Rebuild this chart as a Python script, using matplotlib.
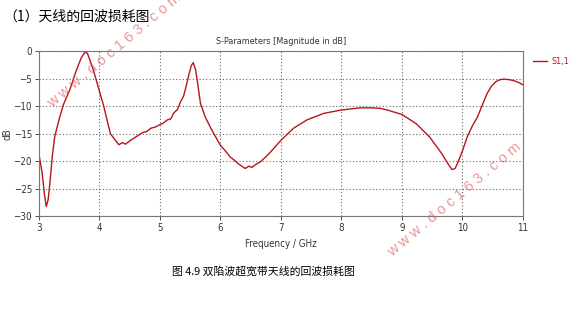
import matplotlib.pyplot as plt
import numpy as np

plt.rcParams['font.family'] = ['DejaVu Sans']
plt.rcParams['font.stretch'] = 'condensed'

# S11
freq = [3.00, 3.05, 3.09, 3.12, 3.15, 3.18, 3.22, 3.26, 3.33, 3.40, 3.51, 3.62, 3.70, 3.76,
        3.80, 3.84, 3.90, 3.96, 4.07, 4.18, 4.25, 4.32, 4.38, 4.43, 4.50, 4.57, 4.64, 4.71,
        4.78, 4.85, 4.92, 4.99, 5.05, 5.12, 5.18, 5.23, 5.29, 5.34, 5.39, 5.43, 5.48, 5.52,
        5.55, 5.59, 5.63, 5.67, 5.75, 5.86, 6.00, 6.08, 6.16, 6.23, 6.30, 6.41, 6.47, 6.52,
        6.58, 6.66, 6.75, 6.83, 7.00, 7.21, 7.43, 7.71, 8.00, 8.31, 8.48, 8.64, 8.76, 9.00,
        9.24, 9.46, 9.66, 9.76, 9.83, 9.88, 9.92, 10.00, 10.08, 10.17, 10.25, 10.33, 10.41,
        10.48, 10.55, 10.62, 10.69, 10.78, 10.86, 10.93, 11.00]
s11 = [-18.8, -22.0, -26.0, -28.2, -27.0, -24.0, -19.0, -15.5, -12.5, -9.8, -7.0, -3.4, -1.2, -0.2,
       -0.4, -1.6, -3.5, -5.8, -10.0, -15.0, -16.0, -17.0, -16.6, -16.9, -16.3, -15.8, -15.3, -14.8,
       -14.6, -14.0, -13.8, -13.4, -13.1, -12.5, -12.3, -11.2, -10.6, -9.2, -8.2, -6.5, -4.2, -2.6,
       -2.1, -3.4, -6.4, -9.5, -12.0, -14.4, -17.1, -18.1, -19.2, -19.8, -20.5, -21.3, -20.9, -21.1,
       -20.6, -20.1, -19.2, -18.3, -16.2, -14.0, -12.5, -11.3, -10.7, -10.3, -10.3, -10.4, -10.7, -11.5,
       -13.2, -15.6, -18.6, -20.4, -21.5, -21.3, -20.4, -18.2, -15.6, -13.5, -12.0, -9.8, -7.7,
       -6.4, -5.6, -5.2, -5.1, -5.2, -5.4, -5.7, -6.1]

xticks = [3, 4, 5, 6, 7, 8, 9, 10, 11]
yticks = [0, -5, -10, -15, -20, -25, -30]

fig = plt.figure(figsize=(5.79, 3.23), dpi=100)
ax = fig.add_axes([0.0674, 0.330, 0.8355, 0.512])

ax.plot(freq, s11, color='#b5161b', lw=1.0, label='S1,1')
ax.set_xlim(3, 11)
ax.set_ylim(-30, 0)
ax.set_xticks(xticks)
ax.set_yticks(yticks)
ax.tick_params(labelsize=7, length=3, width=0.6, colors='#333333', pad=2)
ax.grid(True, ls=(0, (1, 2)), color='#666666', lw=0.8)
for s in ax.spines.values():
    s.set_color('#777777')
    s.set_linewidth(0.8)

ax.set_title('S-Parameters [Magnitude in dB]', fontsize=6.5, color='#333333', pad=5)
ax.set_xlabel('Frequency / GHz', fontsize=7, color='#333333', labelpad=4)
ax.set_ylabel('dB', fontsize=7, color='#333333')
ax.yaxis.set_label_coords(-0.055, 0.5)

ax.legend(loc='upper left', bbox_to_anchor=(1.008, 1.0), frameon=False, fontsize=6.5,
          handlelength=1.6, handletextpad=0.5, borderaxespad=0.3, labelcolor='#b5161b')

cjk = ['Noto Sans CJK SC', 'DejaVu Sans']
fig.text(0.006, 0.95, '（1）天线的回波损耗图', fontsize=10, family=cjk, va='center')
fig.text(0.455, 0.16, '图 4.9 双陷波超宽带天线的回波损耗图', fontsize=7.8, family=cjk,
         ha='center', va='center')

# watermark
for x, y in [(0.197, 0.845), (0.784, 0.381)]:
    fig.text(x, y, 'w w w . d o c 1 6 3 . c o m', fontsize=10.5, color='#d85050', alpha=0.6,
             rotation=40, ha='center', va='center', family='Liberation Sans',
             fontstretch='normal')

fig.savefig('out.png', dpi=100)
